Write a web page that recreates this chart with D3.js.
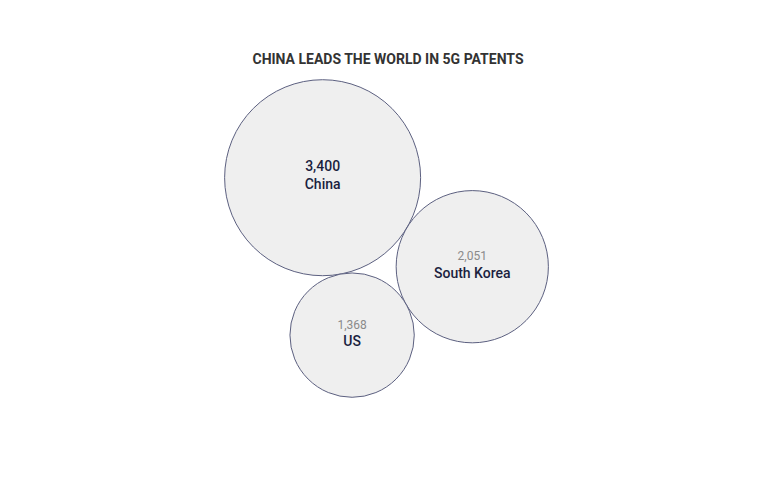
<!DOCTYPE html>
<html>
<head>
<meta charset="utf-8">
<script src="https://cdn.jsdelivr.net/npm/d3@7"></script>
<style>
  body { margin: 0; background: #fff; }
  svg { font-family: Roboto, "Noto Sans", sans-serif; }
</style>
</head>
<body>
<div class="chart-container"></div>
<script>
const countries = ['China', 'South Korea', 'US']
const patents = [3400, 2051, 1368]
const leader = 'China'

const width = 761
const height = 482
const maxRadius = 98
// direction china -> south korea, and where the layout sits
const layoutAngle = Math.atan2(89.5, 150.5)
const layoutCenter = { x: 386.5, y: 238.5 }

const rScale = d3.scaleSqrt()
  .domain([0, d3.max(patents)])
  .range([0, maxRadius])

const nodes = countries.map((name, i) => ({
  name: name,
  value: patents[i],
  r: rScale(patents[i]),
}))

// pack circles so they all touch, then turn the group into place
d3.packSiblings(nodes)

const a = nodes[0]
const b = nodes[1]
const turn = layoutAngle - Math.atan2(b.y - a.y, b.x - a.x)
const ox = a.x, oy = a.y
nodes.forEach((d) => {
  const dx = d.x - ox, dy = d.y - oy
  d.x = dx * Math.cos(turn) - dy * Math.sin(turn)
  d.y = dx * Math.sin(turn) + dy * Math.cos(turn)
})

// keep the smallest circle below the china - korea line
const c = nodes[2]
const cross = b.x * c.y - b.y * c.x
if (cross < 0) {
  const ux = Math.cos(layoutAngle), uy = Math.sin(layoutAngle)
  nodes.forEach((d) => {
    const t = d.x * ux + d.y * uy
    d.x = 2 * t * ux - d.x
    d.y = 2 * t * uy - d.y
  })
}

const x0 = d3.min(nodes, (d) => d.x - d.r)
const x1 = d3.max(nodes, (d) => d.x + d.r)
const y0 = d3.min(nodes, (d) => d.y - d.r)
const y1 = d3.max(nodes, (d) => d.y + d.r)
const shiftX = layoutCenter.x - (x0 + x1) / 2
const shiftY = layoutCenter.y - (y0 + y1) / 2

const svg = d3.select('.chart-container')
  .append('svg')
  .attr('width', width)
  .attr('height', height)

svg.append('text')
  .attr('x', 388)
  .attr('y', 64)
  .attr('text-anchor', 'middle')
  .attr('font-size', 14)
  .attr('font-weight', 'bold')
  .attr('fill', '#333')
  .text('CHINA LEADS THE WORLD IN 5G PATENTS')

const node = svg.append('g')
  .attr('transform', `translate(${shiftX}, ${shiftY})`)
  .selectAll('.node')
  .data(nodes)
  .enter()
  .append('g')
  .attr('class', 'node')
  .attr('transform', (d) => `translate(${d.x}, ${d.y})`)

node.append('circle')
  .attr('r', (d) => d.r)
  .attr('fill', '#efefef')
  .attr('stroke', '#5c6080')
  .attr('stroke-width', 1)

node.append('text')
  .attr('text-anchor', 'middle')
  .attr('y', -6.5)
  .attr('font-size', (d) => d.name == leader ? 14 : 12)
  .attr('font-weight', (d) => d.name == leader ? 500 : 400)
  .attr('fill', (d) => d.name == leader ? '#1b1f3f' : '#8a8a8a')
  .text((d) => d3.format(',')(d.value))

node.append('text')
  .attr('text-anchor', 'middle')
  .attr('y', 11)
  .attr('font-size', 14)
  .attr('font-weight', 500)
  .attr('fill', '#1b1f3f')
  .text((d) => d.name)
</script>
</body>
</html>
